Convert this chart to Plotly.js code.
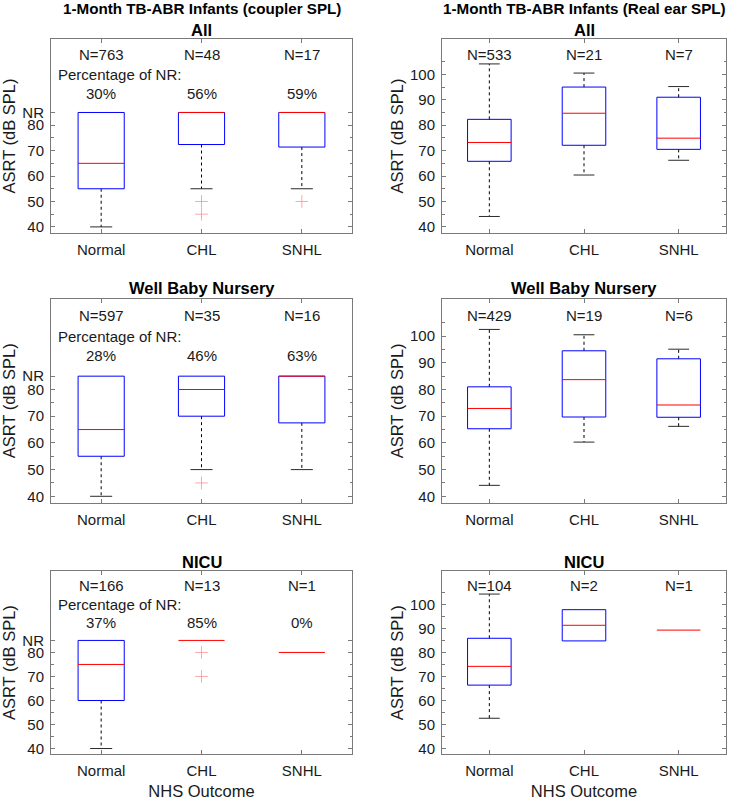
<!DOCTYPE html>
<html><head><meta charset="utf-8">
<script src="https://cdn.plot.ly/plotly-3.0.1.min.js"></script>
<style>html,body{margin:0;padding:0;background:#fff}</style>
</head><body><div id="chart" style="width:742px;height:800px"></div>
<script>
// ---------- data ----------
const categories = ['Normal', 'CHL', 'SNHL'];

// 1-Month coupler SPL, All
const cAllQ1  = [55, 72.4, 71.4];
const cAllMed = [65, 85, 85];
const cAllQ3  = [85, 85, 85];
const cAllLo  = [40, 55, 55];
const cAllHi  = [85, 85, 85];
const cAllOutCat = ['CHL', 'CHL', 'SNHL'];
const cAllOutVal = [50, 45, 50];
const cAllN   = [763, 48, 17];
const cAllPct = [30, 56, 59];

// Real ear SPL, All
const rAllQ1  = [65.8, 72.1, 70.5];
const rAllMed = [73.2, 84.7, 74.9];
const rAllQ3  = [82.3, 95.0, 91.0];
const rAllLo  = [44.1, 60.4, 66.2];
const rAllHi  = [104.1, 100.5, 95.2];
const rAllOutCat = [];
const rAllOutVal = [];
const rAllN   = [533, 21, 7];

// coupler SPL, Well Baby Nursery
const cWbnQ1  = [55, 70, 67.5];
const cWbnMed = [65, 80, 85];
const cWbnQ3  = [85, 85, 85];
const cWbnLo  = [40, 50, 50];
const cWbnHi  = [85, 85, 85];
const cWbnOutCat = ['CHL'];
const cWbnOutVal = [45];
const cWbnN   = [597, 35, 16];
const cWbnPct = [28, 46, 63];

// Real ear SPL, Well Baby Nursery
const rWbnQ1  = [65.3, 69.7, 69.6];
const rWbnMed = [72.9, 83.7, 74.2];
const rWbnQ3  = [81.0, 94.5, 91.5];
const rWbnLo  = [44.1, 60.3, 66.2];
const rWbnHi  = [102.5, 100.5, 95.1];
const rWbnOutCat = [];
const rWbnOutVal = [];
const rWbnN   = [429, 19, 6];

// coupler SPL, NICU
const cNicuQ1  = [60, 85, 80];
const cNicuMed = [75, 85, 80];
const cNicuQ3  = [85, 85, 80];
const cNicuLo  = [40, 85, 80];
const cNicuHi  = [85, 85, 80];
const cNicuOutCat = ['CHL', 'CHL'];
const cNicuOutVal = [80, 70];
const cNicuN   = [166, 13, 1];
const cNicuPct = [37, 85, 0];

// Real ear SPL, NICU
const rNicuQ1  = [66.4, 84.8, 89.3];
const rNicuMed = [74.2, 91.3, 89.3];
const rNicuQ3  = [85.9, 97.8, 89.3];
const rNicuLo  = [52.6, 84.8, 89.3];
const rNicuHi  = [104.3, 97.8, 89.3];
const rNicuOutCat = [];
const rNicuOutVal = [];
const rNicuN   = [104, 2, 1];

const couplerTickVals = [40, 50, 60, 70, 80, 85];
const couplerTickText = ['40', '50', '60', '70', '80', 'NR'];
const couplerMinor = [45, 55, 65, 75];
const realTickVals = [40, 50, 60, 70, 80, 90, 100];
const realMinor = [45, 55, 65, 75, 85, 95, 105];

const mainTitleLeft = '1-Month TB-ABR Infants (coupler SPL)';
const mainTitleRight = '1-Month TB-ABR Infants (Real ear SPL)';
const groupTitles = ['All', 'Well Baby Nursery', 'NICU'];
const yTitle = 'ASRT (dB SPL)';
const xTitle = 'NHS Outcome';

// ---------- styling ----------
const BOX_HW = 0.23, CAP_HW = 0.11;
const FONT = 'Liberation Sans, Arial, Helvetica, sans-serif';
const TXT = '#1a1a1a';
const FRAME = '#7a7a7a';

const panels = [
  {q1: cAllQ1, med: cAllMed, q3: cAllQ3, lo: cAllLo, hi: cAllHi, oc: cAllOutCat, ov: cAllOutVal, n: cAllN, pct: cAllPct, coupler: true},
  {q1: rAllQ1, med: rAllMed, q3: rAllQ3, lo: rAllLo, hi: rAllHi, oc: rAllOutCat, ov: rAllOutVal, n: rAllN, pct: null, coupler: false},
  {q1: cWbnQ1, med: cWbnMed, q3: cWbnQ3, lo: cWbnLo, hi: cWbnHi, oc: cWbnOutCat, ov: cWbnOutVal, n: cWbnN, pct: cWbnPct, coupler: true},
  {q1: rWbnQ1, med: rWbnMed, q3: rWbnQ3, lo: rWbnLo, hi: rWbnHi, oc: rWbnOutCat, ov: rWbnOutVal, n: rWbnN, pct: null, coupler: false},
  {q1: cNicuQ1, med: cNicuMed, q3: cNicuQ3, lo: cNicuLo, hi: cNicuHi, oc: cNicuOutCat, ov: cNicuOutVal, n: cNicuN, pct: cNicuPct, coupler: true},
  {q1: rNicuQ1, med: rNicuMed, q3: rNicuQ3, lo: rNicuLo, hi: rNicuHi, oc: rNicuOutCat, ov: rNicuOutVal, n: rNicuN, pct: null, coupler: false}
];

const W = 742, H = 800;
const xDomL = [51 / W, 352 / W], xDomR = [442 / W, 726 / W];
const yDoms = [[1 - 233 / H, 1 - 39 / H], [1 - 502.7 / H, 1 - 299 / H], [1 - 754.3 / H, 1 - 571 / H]];
const Y_RANGE = [37.6, 113.9];

const traces = [];
const annotations = [];
const layout = {
  width: W, height: H,
  margin: {l: 0, r: 0, t: 0, b: 0},
  paper_bgcolor: '#fff', plot_bgcolor: '#fff',
  showlegend: false,
  font: {family: FONT, size: 15, color: TXT}
};

panels.forEach((p, k) => {
  const idx = k + 1;
  const xa = 'x' + (idx === 1 ? '' : idx), ya = 'y' + (idx === 1 ? '' : idx);
  const col = k % 2, row = Math.floor(k / 2);
  const pos = categories.map((c, i) => i + 1);

  const wx = [], wy = [], cx = [], cy = [], bx = [], by = [], mx = [], my = [];
  pos.forEach((x, i) => {
    if (p.hi[i] > p.q3[i]) {
      wx.push(x, x, null);
      wy.push(p.q3[i], p.hi[i], null);
      cx.push(x - CAP_HW, x + CAP_HW, null);
      cy.push(p.hi[i], p.hi[i], null);
    }
    if (p.lo[i] < p.q1[i]) {
      wx.push(x, x, null);
      wy.push(p.q1[i], p.lo[i], null);
      cx.push(x - CAP_HW, x + CAP_HW, null);
      cy.push(p.lo[i], p.lo[i], null);
    }
    if (p.q3[i] > p.q1[i]) {
      bx.push(x - BOX_HW, x + BOX_HW, x + BOX_HW, x - BOX_HW, x - BOX_HW, null);
      by.push(p.q1[i], p.q1[i], p.q3[i], p.q3[i], p.q1[i], null);
    }
    mx.push(x - BOX_HW, x + BOX_HW, null);
    my.push(p.med[i], p.med[i], null);
  });
  traces.push({type: 'scatter', mode: 'lines', x: wx, y: wy, xaxis: xa, yaxis: ya,
    line: {color: '#000', width: 1, dash: '3px,3px'}, hoverinfo: 'skip'});
  traces.push({type: 'scatter', mode: 'lines', x: cx, y: cy, xaxis: xa, yaxis: ya,
    line: {color: '#2a2a2a', width: 1}, hoverinfo: 'skip'});
  traces.push({type: 'scatter', mode: 'lines', x: bx, y: by, xaxis: xa, yaxis: ya,
    line: {color: '#0000ff', width: 1}, hoverinfo: 'skip'});
  traces.push({type: 'scatter', mode: 'lines', x: mx, y: my, xaxis: xa, yaxis: ya,
    line: {color: '#ff0000', width: 1}, hoverinfo: 'skip'});
  if (p.oc.length) {
    traces.push({type: 'scatter', mode: 'markers', xaxis: xa, yaxis: ya,
      x: p.oc.map(c => categories.indexOf(c) + 1), y: p.ov,
      marker: {symbol: 'cross-thin-open', size: 9, color: '#ff9090', line: {width: 0.8, color: '#ff9090'}},
      hoverinfo: 'skip'});
  }

  const axKey = 'xaxis' + (idx === 1 ? '' : idx), ayKey = 'yaxis' + (idx === 1 ? '' : idx);
  layout[axKey] = {
    domain: col === 0 ? xDomL : xDomR,
    anchor: ya, range: [0.5, 3.5], fixedrange: true,
    tickvals: pos, ticktext: categories,
    ticks: 'inside', ticklen: 4, tickcolor: FRAME, ticklabelstandoff: 3,
    showline: true, linecolor: FRAME, linewidth: 1, mirror: 'ticks',
    showgrid: false, zeroline: false,
    tickfont: {size: 15, color: TXT, family: FONT}
  };
  if (row === 2) {
    layout[axKey].title = {text: xTitle, font: {size: 16.5, color: TXT, family: FONT}, standoff: 11};
  }
  layout[ayKey] = {
    domain: yDoms[row], anchor: xa, range: Y_RANGE, fixedrange: true,
    tickvals: p.coupler ? couplerTickVals : realTickVals,
    ticktext: p.coupler ? couplerTickText : realTickVals.map(String),
    ticks: 'inside', ticklen: 4, tickcolor: FRAME, ticklabelstandoff: 3,
    minor: {tickvals: p.coupler ? couplerMinor : realMinor, ticks: 'inside', ticklen: 2.5, tickcolor: FRAME, showgrid: false},
    showline: true, linecolor: FRAME, linewidth: 1, mirror: 'ticks',
    showgrid: false, zeroline: false,
    tickfont: {size: 15, color: TXT, family: FONT},
    title: {text: yTitle, font: {size: 16.5, color: TXT, family: FONT}, standoff: 2}
  };

  pos.forEach((x, i) => {
    annotations.push({xref: xa, yref: ya, x: x, y: 107.8, text: 'N=' + p.n[i], showarrow: false,
      font: {size: 15, color: TXT, family: FONT}, xanchor: 'center', yanchor: 'middle'});
    if (p.pct) {
      annotations.push({xref: xa, yref: ya, x: x, y: 92.6, text: p.pct[i] + '%', showarrow: false,
        font: {size: 15, color: TXT, family: FONT}, xanchor: 'center', yanchor: 'middle'});
    }
  });
  if (p.pct) {
    annotations.push({xref: xa, yref: ya, x: 0.55, y: 99.8, text: 'Percentage of NR:', showarrow: false,
      font: {size: 15, color: TXT, family: FONT}, xanchor: 'left', yanchor: 'middle'});
  }
  const dom = col === 0 ? xDomL : xDomR;
  annotations.push({xref: 'paper', yref: 'paper', x: (dom[0] + dom[1]) / 2,
    y: [1 - 30 / H, 1 - 288 / H, 1 - 561.5 / H][row],
    text: '<b>' + groupTitles[row] + '</b>', showarrow: false,
    font: {size: 16.5, color: '#000', family: FONT}, xanchor: 'center', yanchor: 'middle'});
});

annotations.push({xref: 'paper', yref: 'paper', x: (xDomL[0] + xDomL[1]) / 2, y: 1 - 8.5 / H,
  text: '<b>' + mainTitleLeft + '</b>', showarrow: false,
  font: {size: 15.2, color: '#000', family: FONT}, xanchor: 'center', yanchor: 'middle'});
annotations.push({xref: 'paper', yref: 'paper', x: (xDomR[0] + xDomR[1]) / 2, y: 1 - 8.5 / H,
  text: '<b>' + mainTitleRight + '</b>', showarrow: false,
  font: {size: 15.2, color: '#000', family: FONT}, xanchor: 'center', yanchor: 'middle'});

layout.annotations = annotations;

Plotly.newPlot('chart', traces, layout, {displayModeBar: false, staticPlot: true});
</script>
</body></html>
